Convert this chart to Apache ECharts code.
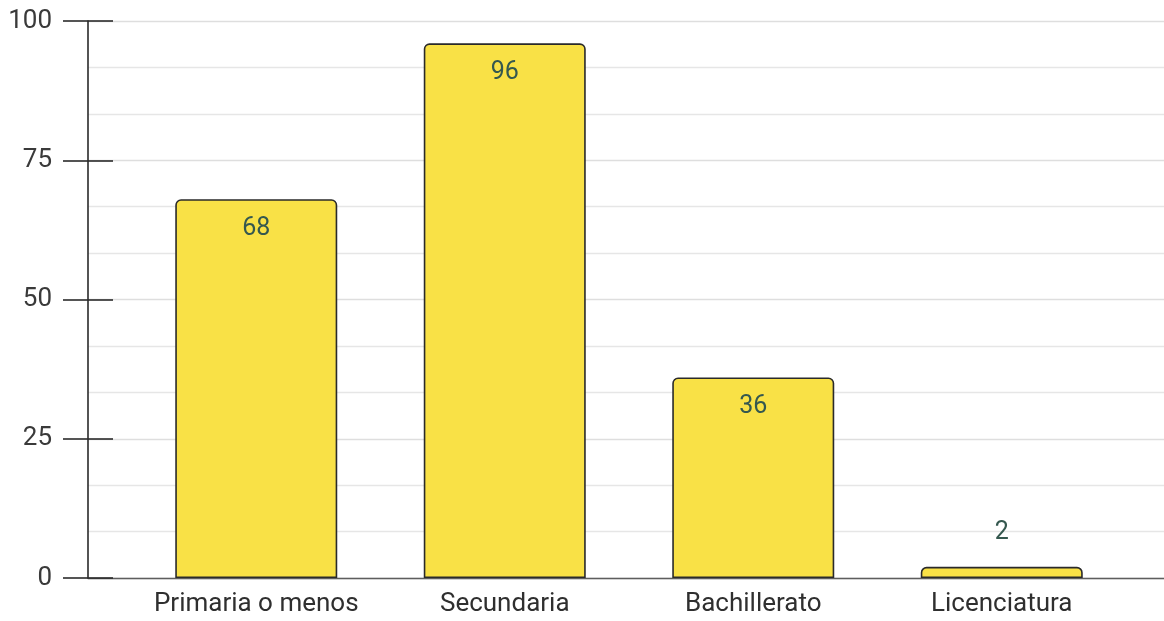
<!DOCTYPE html>
<html>
<head>
<meta charset="utf-8">
<style>
  html, body { margin: 0; padding: 0; background: #ffffff; }
  #chart { width: 1164px; height: 621px; }
</style>
<script src="https://cdn.jsdelivr.net/npm/echarts@6/dist/echarts.min.js"></script>
</head>
<body>
<div id="chart"></div>
<script>
// Education level counts
const categories = ['Primaria o menos', 'Secundaria', 'Bachillerato', 'Licenciatura'];
const values = [68, 96, 36, 2];
const yMin = 0;
const yMax = 100;
const yStep = 25;

const FONT = 'Roboto, Arial, sans-serif';
const TOP = 21;
const BOTTOM = 43;

// Bars that are too short for an inside label get it above instead
const barData = values.map(function (v) {
  const small = v < 10;
  return {
    value: v,
    label: small
      ? { position: 'top', distance: 22 }
      : { position: 'insideTop', distance: 17 }
  };
});

const chart = echarts.init(document.getElementById('chart'), null, { renderer: 'canvas' });

chart.setOption({
  animation: false,
  backgroundColor: '#ffffff',
  grid: [
    // frame grid: value axis, gridlines, baseline
    { left: 88, right: 0, top: TOP, bottom: BOTTOM },
    // bar grid: category band
    { left: 132, right: 38, top: TOP, bottom: BOTTOM }
  ],
  xAxis: [
    {
      gridIndex: 0, type: 'value', min: 0, max: 1,
      axisLine: { show: true, lineStyle: { color: '#5e5e5e', width: 1.4 } },
      axisTick: { show: false }, axisLabel: { show: false }, splitLine: { show: false }
    },
    {
      gridIndex: 1, type: 'category', data: categories,
      axisLine: { show: false }, axisTick: { show: false },
      axisLabel: { interval: 0, hideOverlap: false, color: '#2f2f2f', fontFamily: FONT, fontSize: 26, margin: 13 }
    }
  ],
  yAxis: [
    {
      gridIndex: 0, type: 'value', position: 'left',
      min: yMin, max: yMax, interval: yStep,
      axisLine: { show: true, lineStyle: { color: '#2a2a2a', width: 1.6 } },
      axisTick: { show: true, length: 25, lineStyle: { color: '#2a2a2a', width: 1.6 } },
      axisLabel: { color: '#3a3a3a', fontFamily: FONT, fontSize: 26, margin: 36 },
      splitLine: { show: true, lineStyle: { color: '#dedede', width: 1.3 } },
      minorTick: { show: false, splitNumber: 3 },
      minorSplitLine: { show: true, lineStyle: { color: '#e6e6e6', width: 1.3 } }
    },
    {
      gridIndex: 1, type: 'value', min: yMin, max: yMax, show: false
    },
    {
      // inner half of the value-axis ticks
      gridIndex: 0, type: 'value', position: 'left', offset: 0,
      min: yMin, max: yMax, interval: yStep,
      axisLine: { show: false },
      axisTick: { show: true, inside: true, length: 25, lineStyle: { color: '#2a2a2a', width: 1.6 } },
      axisLabel: { show: false },
      splitLine: { show: false }
    }
  ],
  series: [
    {
      type: 'bar',
      xAxisIndex: 1,
      yAxisIndex: 1,
      data: barData,
      barWidth: 162,
      itemStyle: {
        color: '#f9e146',
        borderColor: '#2a2a2a',
        borderWidth: 1.6,
        borderRadius: [5, 5, 0, 0]
      },
      label: {
        show: true,
        formatter: '{c}',
        color: '#35584f',
        fontFamily: FONT,
        fontSize: 25
      }
    }
  ]
});
</script>
</body>
</html>
